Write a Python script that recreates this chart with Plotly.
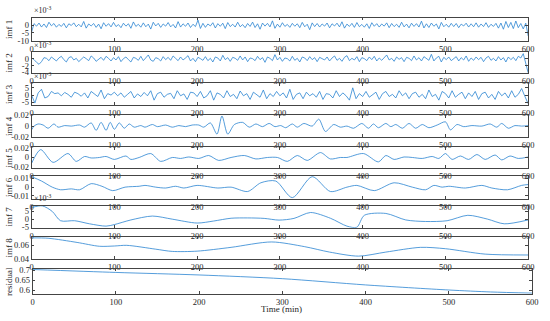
import plotly.graph_objects as go

# ---------------- data ----------------
time_axis_ticks = [0, 100, 200, 300, 400, 500, 600]
panel_labels = ["imf 1", "imf 2", "imf 3", "imf 4", "imf 5", "imf 6", "imf 7", "imf 8", "residual"]

# imf 1 (x1e-3), sampled every 3 min
imf1_t = list(range(0, 601, 3))
imf1_v = [
    -4.5, 1.0, -0.6, 1.4, -1.2, 0.8, -1.5, 1.9, -0.4, 1.1,
    -1.3, 0.5, -0.8, 1.2, -1.7, 0.9, -0.2, 1.5, -1.0, 0.6,
    -1.1, 2.4, -1.9, 0.8, -0.5, 1.1, -1.4, 0.7, -2.3, 1.6,
    -0.7, 1.0, -1.1, 1.8, -0.9, 0.4, -1.6, 1.3, -0.6, 0.9,
    -2.0, 2.1, -0.8, 0.6, -1.3, 1.5, -1.0, 0.7, -2.5, 1.9,
    -0.5, 1.2, -1.4, 0.8, -0.6, 1.7, -1.1, 0.5, -1.8, 2.3,
    -1.2, 0.9, -0.7, 1.4, -1.5, 0.6, -0.9, 3.3, -2.1, 1.2,
    -1.4, 0.8, -0.5, 1.6, -1.8, 1.0, -0.7, 1.3, -2.2, 1.7,
    -0.9, 0.6, -1.2, 1.9, -1.0, 0.4, -1.6, 1.1, -0.8, 2.0,
    -1.5, 0.9, -2.6, 1.4, -0.6, 1.2, -1.1, 2.8, -2.0, 0.7,
    -1.3, 1.6, -0.8, 0.5, -1.4, 1.2, -0.7, 0.9, -1.6, 1.8,
    -1.0, 0.6, -2.9, 1.5, -0.9, 1.1, -1.2, 0.8, -0.6, 1.4,
    -1.7, 0.9, -0.5, 1.3, -1.1, 2.2, -1.9, 0.7, -0.8, 1.2,
    -1.4, 1.7, -1.0, 0.5, -1.3, 0.9, -2.1, 1.6, -0.7, 1.0,
    -1.2, 0.8, -0.6, 1.5, -1.6, 1.1, -0.9, 0.6, -1.4, 1.9,
    -1.1, 0.7, -1.7, 1.3, -0.8, 1.0, -1.2, 2.6, -1.8, 0.9,
    -1.5, 1.4, -0.7, 0.8, -2.4, 1.8, -1.0, 0.6, -1.3, 1.2,
    -0.9, 1.1, -1.6, 0.7, -0.5, 1.3, -1.2, 0.9, -1.0, 1.5,
    -1.3, 0.8, -0.9, 1.6, -1.4, 0.6, -0.8, 1.2, -1.9, 1.4,
    -2.6, 2.4, -1.5, 1.8, -2.2, 2.7, -1.6, 1.1, -2.4, 1.3,
    -7.0,
]

# imf 2 (x1e-3), sampled every 3 min
imf2_t = list(range(0, 601, 3))
imf2_v = [
    0.3, -0.2, -1.0, -1.6, -0.8, 0.4, 0.2, -0.5, 0.6, 0.1,
    -0.6, 0.3, 0.8, -0.2, -0.9, 0.4, 0.7, -0.3, 0.2, -0.8,
    -0.2, 0.6, 0.1, -0.5, 0.9, 0.3, -0.7, -0.1, 0.5, -0.4,
    0.8, 0.2, -0.6, 0.4, -0.3, 0.7, -0.8, 0.1, 0.6, -0.2,
    -0.9, 0.5, 0.2, -0.4, 0.8, -0.5, 0.3, 1.2, -0.3, -0.7,
    0.4, 0.1, -0.6, 0.7, -0.2, 0.5, -0.4, 0.9, 0.2, -0.5,
    0.6, -0.3, 0.3, 1.0, -0.6, 0.2, -0.8, 0.5, 0.1, -0.4,
    0.7, -0.5, 0.2, -0.9, 0.6, 0.3, -0.6, 1.1, -0.2, 0.4,
    -0.7, 0.5, 0.2, -0.4, 0.9, -0.3, 0.6, -0.8, 0.3, 0.1,
    -0.5, 0.8, -0.2, 0.4, -1.0, 0.6, 0.2, -0.5, 1.3, -0.3,
    0.5, -0.7, 0.3, 0.1, -0.6, 0.8, -0.4, 0.2, -0.9, 0.6,
    0.3, -0.5, 0.7, -0.2, 0.4, -0.8, 0.5, 0.1, -0.3, 0.6,
    -0.6, 0.3, 0.9, -0.4, 0.2, -0.7, 0.5, 1.0, -0.5, 0.2,
    -0.3, 0.7, -0.8, 0.4, 0.1, -0.5, 0.6, -0.2, 0.8, -0.6,
    0.3, -0.4, 0.5, 1.2, -0.3, 0.2, -0.7, 0.6, -0.1, 0.4,
    -0.8, 0.5, 0.2, -0.5, 0.9, -0.3, 0.4, -0.6, 0.7, 0.1,
    -0.4, 1.4, -0.6, 0.3, 0.8, -0.9, 0.5, -0.2, 0.6, -0.5,
    0.2, 0.7, -0.6, 0.4, -0.3, 0.9, -0.7, 0.3, -0.4, 0.6,
    -0.2, 0.5, -0.8, 0.3, 0.8, -0.4, 0.2, -0.6, 0.7, -0.3,
    0.4, -0.9, 0.6, -0.2, 0.5, -0.5, 0.8, 0.3, 1.6, -1.0,
    -4.2,
]

# imf 3 (x1e-3), sampled every 4 min
imf3_t = list(range(0, 601, 4))
imf3_v = [
    0.0, -5.5, 1.5, 4.0, -2.0, -1.0, 2.5, 1.0, 1.5, -0.5,
    1.8, 0.5, -1.5, 2.0, 1.0, -0.8, 1.5, -2.0, 2.5, 0.5,
    -1.0, 3.5, -2.5, 1.0, 0.0, 2.0, -0.5, 1.5, -1.5, 0.5,
    2.5, -2.0, 0.8, -1.0, 1.8, -0.5, 3.0, -3.5, 1.0, 2.0,
    -1.5, 0.5, 1.2, -2.5, 3.0, -0.5, 0.8, -3.0, 2.0, 1.5,
    -1.0, 2.5, -2.0, -0.5, 3.0, -3.5, 1.5, 0.5, -2.0, 3.0,
    -1.0, 0.5, -2.5, 2.8, -0.5, 1.0, -3.0, 2.0, 0.5, -1.5,
    3.5, -2.5, 1.0, -1.0, 2.5, -0.5, 1.5, -2.0, 4.0, -3.0,
    0.5, 1.5, -2.5, 2.0, -0.5, 1.0, -1.5, 2.5, -3.0, 1.0,
    0.5, -2.0, 3.0, -1.0, 1.5, -0.5, -3.5, 5.0, -2.5, 1.0,
    -1.0, 2.5, -1.5, 0.5, 2.0, -3.0, 1.0, 2.5, -1.0, 0.5,
    -2.0, 3.0, -0.5, 1.5, -2.5, 1.0, 2.0, -1.5, 0.5, -2.5,
    3.5, -1.0, 0.5, -3.5, 2.5, 1.0, -2.0, 3.0, -1.5, 0.5,
    2.0, -2.5, 1.5, -1.0, 2.5, -3.0, 1.0, 2.0, -2.0, 0.5,
    -3.0, 2.5, -0.5, 1.5, -2.0, 3.0, -1.5, 0.5, 4.5, -1.0,
    -6.0,
]

# imf 4 (extrema, minutes / value)
imf4_t = [0, 3, 8, 14, 20, 27, 32, 40, 48, 58, 64, 72, 78, 84, 90, 95, 100, 106, 112, 118,
          124, 132, 137, 146, 152, 162, 170, 178, 186, 194, 202, 208, 216, 224, 230, 237, 245,
          255, 263, 271, 279, 287, 294, 301, 307, 315, 321, 329, 339, 347, 355, 365, 373, 381,
          389, 399, 407, 413, 419, 428, 434, 440, 448, 456, 464, 472, 480, 490, 500, 506, 514,
          522, 532, 544, 554, 562, 568, 576, 584, 592, 600]
imf4_v = [-0.007, 0.0, 0.004, 0.002, -0.004, 0.004, -0.002, 0.001, 0.0, 0.002, -0.002, 0.006,
          -0.008, 0.007, -0.008, 0.007, -0.006, 0.006, -0.004, 0.004, -0.002, 0.001, -0.002,
          0.003, -0.001, 0.002, -0.002, 0.001, -0.001, 0.002, 0.002, -0.002, 0.006, -0.015,
          0.019, -0.015, 0.003, 0.007, -0.002, 0.004, -0.001, 0.005, -0.001, 0.001, -0.003,
          0.004, -0.002, 0.005, 0.0, 0.013, -0.01, 0.003, -0.002, 0.0, -0.004, 0.005, -0.004,
          0.004, -0.003, 0.005, -0.001, 0.003, -0.004, 0.005, -0.004, 0.003, -0.003, 0.002,
          0.008, -0.007, 0.003, -0.001, 0.001, 0.0, 0.004, -0.002, 0.005, -0.004, 0.001, 0.0, 0.001]

# imf 5
imf5_t = [0, 11, 26, 44, 54, 64, 72, 82, 90, 100, 114, 120, 130, 144, 156, 170, 180, 190, 202,
          214, 226, 241, 257, 271, 285, 297, 309, 321, 333, 349, 361, 373, 381, 401, 419, 428,
          438, 450, 460, 472, 484, 492, 500, 508, 518, 528, 538, 548, 560, 568, 578, 588, 600]
imf5_v = [-0.012, 0.016, -0.01, 0.008, -0.008, 0.002, -0.001, 0.0, 0.002, -0.004, 0.003, -0.004,
          0.0, 0.008, -0.008, 0.0, -0.002, 0.001, -0.002, 0.004, -0.006, 0.0, 0.004, -0.003, 0.0,
          0.0, -0.008, 0.004, -0.006, 0.01, -0.003, 0.0, 0.0, 0.008, -0.009, 0.004, -0.004, 0.001,
          0.0, -0.002, 0.002, -0.002, 0.008, -0.004, 0.003, -0.004, 0.006, -0.004, 0.005, -0.005,
          0.003, -0.002, 0.001]

# imf 6
imf6_t = [0, 12, 25, 35, 48, 58, 72, 85, 98, 113, 130, 137, 150, 162, 174, 184, 200, 225, 241,
          261, 277, 295, 315, 339, 361, 381, 393, 414, 438, 460, 476, 486, 496, 504, 524, 544,
          556, 575, 592, 600]
imf6_v = [0.012, 0.007, 0.0, -0.003, -0.002, -0.003, 0.004, 0.001, -0.004, 0.0, 0.001, 0.002,
          0.0, -0.001, 0.001, -0.001, 0.002, -0.001, 0.0, -0.005, 0.005, 0.007, -0.012, 0.012,
          -0.005, 0.0, 0.002, -0.004, 0.005, 0.0, -0.003, 0.002, 0.0, 0.001, -0.001, 0.002,
          -0.001, -0.003, 0.002, 0.003]

# imf 7 (x1e-3)
imf7_t = [0, 13, 25, 35, 52, 70, 90, 100, 120, 146, 170, 200, 220, 241, 261, 281, 299, 317,
          337, 361, 381, 393, 402, 428, 452, 476, 502, 527, 551, 571, 600]
imf7_v = [7.5, 8.6, 5.0, -1.0, -1.0, -3.0, -4.5, -3.5, -0.5, 2.0, 0.0, -2.5, -1.2, 0.6, 0.8,
          0.5, -0.6, 0.5, 4.3, 0.6, -4.5, -5.2, 2.5, 3.7, -0.5, -1.5, -1.0, 2.5, 0.0, -3.0, -0.5]

# imf 8
imf8_t = [0, 20, 55, 82, 100, 115, 150, 170, 200, 241, 290, 330, 360, 395, 428, 470, 500, 548, 600]
imf8_v = [0.071, 0.0705, 0.0643, 0.0586, 0.059, 0.060, 0.0543, 0.051, 0.0514, 0.057, 0.065,
          0.058, 0.050, 0.044, 0.050, 0.057, 0.055, 0.047, 0.0457]

# residual
res_t = [0, 100, 200, 300, 400, 500, 550, 600]
res_v = [0.705, 0.69, 0.677, 0.658, 0.626, 0.600, 0.590, 0.584]

# ---------------- layout helpers ----------------
W, H = 550, 321
LINE = "#2a84d2"
AX = "#444444"
FONT = "Liberation Serif"

panels = [
    dict(t=imf1_t, v=imf1_v, top=13, bot=37, rng=[-10.1, 4.9], tv=[-10, -5, 0], tt=["-10", "-5", "0"], exp=True, spline=False),
    dict(t=imf2_t, v=imf2_v, top=49, bot=70, rng=[-4.15, 1.95], tv=[-4, -2, 0], tt=["-4", "-2", "0"], exp=True, spline=False),
    dict(t=imf3_t, v=imf3_v, top=81, bot=103, rng=[-6.7, 8.0], tv=[-5, 0, 5], tt=["-5", "0", "5"], exp=True, spline=False),
    dict(t=imf4_t, v=imf4_v, top=114, bot=136, rng=[-0.02, 0.02], tv=[-0.02, 0, 0.02], tt=["-0.02", "0", "0.02"], exp=False, spline=True),
    dict(t=imf5_t, v=imf5_v, top=147, bot=168, rng=[-0.021, 0.0205], tv=[-0.02, 0, 0.02], tt=["-0.02", "0", "0.02"], exp=False, spline=True),
    dict(t=imf6_t, v=imf6_v, top=176, bot=200, rng=[-0.0133, 0.0133], tv=[-0.01, 0, 0.01], tt=["-0.01", "0", "0.01"], exp=False, spline=True),
    dict(t=imf7_t, v=imf7_v, top=207, bot=230, rng=[-5.6, 8.8], tv=[-5, 0, 5], tt=["-5", "0", "5"], exp=True, spline=True),
    dict(t=imf8_t, v=imf8_v, top=239, bot=262, rng=[0.04, 0.073], tv=[0.04, 0.06], tt=["0.04", "0.06"], exp=False, spline=True),
    dict(t=res_t, v=res_v, top=272, bot=298, rng=[0.581, 0.71], tv=[0.6, 0.65, 0.7], tt=["0.6", "0.65", "0.7"], exp=False, spline=True),
]

fig = go.Figure()
annotations = []
for i, p in enumerate(panels):
    n = "" if i == 0 else str(i + 1)
    x0, x1 = (30, 534) if i < 8 else (31, 538)
    fig.add_trace(go.Scatter(
        x=p["t"], y=p["v"], mode="lines",
        line=dict(color=LINE, width=0.8, shape="spline" if p["spline"] else "linear", smoothing=0.8),
        xaxis="x" + n, yaxis="y" + n, showlegend=False, hoverinfo="skip"))
    common = dict(showline=True, linecolor=AX, linewidth=0.8, mirror="ticks", ticks="inside",
                  ticklen=3, tickwidth=0.8, tickcolor=AX, showgrid=False, zeroline=False,
                  ticklabeloverflow="allow",
                  tickfont=dict(family=FONT, size=8.5, color="#262626"))
    fig.update_layout(**{
        "xaxis" + n: dict(domain=[x0 / W, x1 / W], range=[0, 600], anchor="y" + n,
                          tickvals=time_axis_ticks, ticktext=[str(t) for t in time_axis_ticks], **common),
        "yaxis" + n: dict(domain=[1 - p["bot"] / H, 1 - p["top"] / H], range=p["rng"], anchor="x" + n,
                          tickvals=p["tv"], ticktext=p["tt"], **common),
    })
    annotations.append(dict(text=panel_labels[i], x=7 / W, y=1 - (p["top"] + p["bot"]) / 2 / H,
                            xref="paper", yref="paper", textangle=-90, showarrow=False,
                            xanchor="center", yanchor="middle",
                            font=dict(family=FONT, size=9, color="#262626")))
    if p["exp"]:
        annotations.append(dict(text="×10<sup>-3</sup>", x=30 / W, y=1 - (p["top"] - 0.5) / H,
                                xref="paper", yref="paper", showarrow=False,
                                xanchor="left", yanchor="bottom",
                                font=dict(family=FONT, size=8, color="#262626")))

annotations.append(dict(text="Time (min)", x=284 / W, y=1 - 314 / H, xref="paper", yref="paper",
                        showarrow=False, xanchor="center", yanchor="middle",
                        font=dict(family=FONT, size=9, color="#262626")))

fig.update_layout(width=W, height=H, margin=dict(l=0, r=0, t=0, b=0),
                  paper_bgcolor="white", plot_bgcolor="white", annotations=annotations)

fig.write_html("out.html", config={"displayModeBar": False},
               post_script="document.body.style.margin='0px';document.body.style.padding='0px';"
                           "document.documentElement.style.overflow='hidden';")
